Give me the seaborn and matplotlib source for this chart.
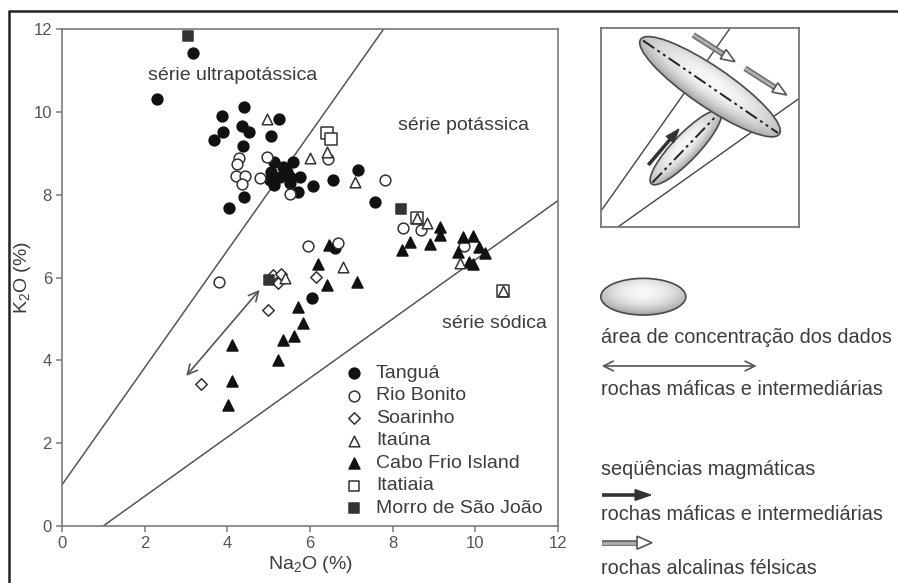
import numpy as np
import matplotlib
matplotlib.use("Agg")
import matplotlib.pyplot as plt
import seaborn as sns
from matplotlib.patches import Ellipse, Polygon

# ---- K2O vs Na2O analyses (wt %) per suite ----
tangua_na = [3.16, 2.29, 4.41, 3.88, 5.25, 4.35, 4.53, 3.90, 3.67, 5.06, 4.37, 5.12, 5.35,
             5.60, 5.06, 5.27, 5.52, 5.76, 5.12, 5.52, 5.72, 4.40, 4.05, 6.08, 6.55, 7.17,
             7.58, 6.61, 6.04, 5.44, 5.03]
tangua_k = [11.43, 10.32, 10.13, 9.91, 9.82, 9.66, 9.52, 9.51, 9.32, 9.42, 9.18, 8.80, 8.68,
            8.80, 8.56, 8.44, 8.44, 8.44, 8.24, 8.28, 8.07, 7.94, 7.67, 8.21, 8.36, 8.61,
            7.83, 6.71, 5.50, 8.56, 8.36]

riobonito_na = [4.28, 4.24, 4.20, 4.43, 4.36, 4.79, 4.97, 5.52, 6.44, 7.82, 8.25, 8.68,
                9.73, 5.94, 6.69, 3.80]
riobonito_k = [8.90, 8.74, 8.45, 8.45, 8.25, 8.40, 8.92, 8.02, 8.86, 8.36, 7.19, 7.15,
               6.76, 6.76, 6.83, 5.88]

soarinho_na = [5.11, 5.23, 6.15, 4.99, 3.35, 5.30]
soarinho_k = [6.06, 5.87, 6.02, 5.21, 3.43, 6.08]

itauna_na = [4.95, 6.40, 6.00, 7.09, 8.83, 9.63, 6.81, 5.39, 10.68, 8.58]
itauna_k = [9.82, 9.04, 8.88, 8.32, 7.32, 6.34, 6.26, 5.98, 5.68, 7.43]

cabofrio_na = [9.15, 9.15, 8.42, 8.22, 8.91, 9.71, 9.94, 9.59, 10.10, 10.24, 9.84, 9.94,
               6.47, 6.20, 6.40, 7.13, 5.70, 5.82, 5.62, 5.34, 5.23, 4.10, 4.10, 4.02]
cabofrio_k = [7.21, 7.03, 6.86, 6.66, 6.81, 6.99, 7.00, 6.62, 6.74, 6.60, 6.38, 6.33,
              6.79, 6.33, 5.82, 5.90, 5.29, 4.91, 4.59, 4.50, 4.01, 4.37, 3.51, 2.92]

itatiaia_na = [6.40, 6.50, 8.58, 10.68]
itatiaia_k = [9.49, 9.36, 7.43, 5.68]

morro_na = [3.05, 8.20, 5.01]
morro_k = [11.83, 7.65, 5.94]

suite_names = ["Tanguá", "Rio Bonito", "Soarinho", "Itaúna", "Cabo Frio Island",
               "Itatiaia", "Morro de São João"]
x_ticks = [0, 2, 4, 6, 8, 10, 12]
y_ticks = [0, 2, 4, 6, 8, 10, 12]

# ---- style ----
sns.set_style("white")
plt.rcParams["font.family"] = ["Liberation Sans", "DejaVu Sans"]
plt.rcParams["mathtext.fontset"] = "custom"
plt.rcParams["mathtext.rm"] = "Liberation Sans"
plt.rcParams["mathtext.it"] = "Liberation Sans"

TXT = "#3c3c3c"
AX = "#7a7a7a"
W, H = 898, 583

fig = plt.figure(figsize=(W / 100, H / 100), dpi=100)
fig.patch.set_facecolor("white")


def box(x0, y0, x1, y1):
    return [x0 / W, 1 - y1 / H, (x1 - x0) / W, (y1 - y0) / H]


ax = fig.add_axes(box(62.3, 29.3, 557.7, 525.7))
ax.set_xlim(0, 12)
ax.set_ylim(0, 12)

# series boundary lines
bx = np.array([0.0, 12.0])
ax.plot(bx, 1 + 1.414 * bx, color="#555555", lw=1.1, zorder=1)
ax.plot(bx, 0.714 * (bx - 1), color="#555555", lw=1.1, zorder=1)

# (na, k, marker, face, edge, size, zorder)
styles = [
    (tangua_na, tangua_k, "o", "#111111", "#111111", 60, 3),
    (riobonito_na, riobonito_k, "o", "white", "#333333", 60, 3),
    (soarinho_na, soarinho_k, "D", "white", "#333333", 34, 3),
    (itauna_na, itauna_k, "^", "white", "#333333", 58, 3.6),
    (cabofrio_na, cabofrio_k, "^", "#111111", "#111111", 62, 3),
    (itatiaia_na, itatiaia_k, "s", "white", "#333333", 70, 3.4),
    (morro_na, morro_k, "s", "#333333", "#333333", 55, 3),
]
for na, k, mk, fc, ec, s, z in styles:
    sns.scatterplot(x=na, y=k, marker=mk, s=s, color=fc, edgecolor=ec,
                    linewidth=1.1, ax=ax, zorder=z, legend=False)

ax.annotate("", xy=(4.78, 5.70), xytext=(3.0, 3.62),
            arrowprops=dict(arrowstyle="<->,head_length=0.7,head_width=0.35",
                            color="#555555", lw=1.2, shrinkA=0, shrinkB=0), zorder=2)

fs = 14
ax.text(2.07, 10.89, "série ultrapotássica", fontsize=fs, color=TXT, va="center", ha="left")
ax.text(8.14, 9.68, "série potássica", fontsize=fs, color=TXT, va="center", ha="left")
ax.text(9.19, 4.88, "série sódica", fontsize=fs, color=TXT, va="center", ha="left")

ax.set_xticks(x_ticks)
ax.set_yticks(y_ticks)
ax.tick_params(axis="both", direction="out", length=4.5, width=1.1, color=AX,
               labelcolor="#555555", labelsize=12, pad=3, left=True, bottom=True)
for sp in ax.spines.values():
    sp.set_color(AX)
    sp.set_linewidth(1.2)
ax.set_xlabel("Na$_2$O (%)", fontsize=fs, color=TXT, labelpad=2)
ax.set_ylabel("K$_2$O (%)", fontsize=fs, color=TXT)
ax.yaxis.set_label_coords(-0.060, 0.5)

# ---- overlay in pixel coordinates ----
ov = fig.add_axes([0, 0, 1, 1])
ov.set_xlim(0, W)
ov.set_ylim(H, 0)
ov.axis("off")

# outer frame
ov.plot([8, W], [11, 11], color="#222222", lw=1.8, solid_capstyle="butt")
ov.plot([9, 9], [11, H], color="#222222", lw=1.8, solid_capstyle="butt")

# legend for suites
leg_y = [373, 396, 418.3, 440.7, 463.3, 486, 508.3]
for (na, k, mk, fc, ec, s, z), name, yy in zip(styles, suite_names, leg_y):
    ov.scatter([354], [yy], marker=mk, s=min(s, 62), c=fc, edgecolors=ec,
               linewidths=1.1, zorder=5)
    ov.text(376, yy, name, fontsize=fs, color=TXT, va="center", ha="left")


def shaded_ellipse(a, cx, cy, w, h, ang, z):
    e = Ellipse((cx, cy), w, h, angle=ang, fc="none", ec="#4a4a4a", lw=1.2, zorder=z + 0.1)
    a.add_patch(e)
    r = max(w, h) / 2 + 2
    n = 240
    xs = np.linspace(cx - r, cx + r, n)
    ys = np.linspace(cy - r, cy + r, n)
    X, Y = np.meshgrid(xs, ys)
    t = np.deg2rad(ang)
    u = ((X - cx) * np.cos(t) + (Y - cy) * np.sin(t)) / (w / 2)
    v = (-(X - cx) * np.sin(t) + (Y - cy) * np.cos(t)) / (h / 2)
    d = np.sqrt(u ** 2 + (v + 0.25) ** 2)
    Z = 0.97 - 0.22 * np.clip(d, 0, 1.3) ** 2
    im = a.imshow(Z, extent=(cx - r, cx + r, cy + r, cy - r), origin="upper", cmap="gray",
                  vmin=0, vmax=1, zorder=z, aspect="auto", interpolation="bilinear")
    im.set_clip_path(e)
    return e


def hollow_arrow(a, p0, p1, hl=15, hw=13, z=5):
    p0 = np.array(p0, float)
    p1 = np.array(p1, float)
    d = (p1 - p0) / np.linalg.norm(p1 - p0)
    n = np.array([-d[1], d[0]])
    base = p1 - d * hl
    a.plot([p0[0], base[0]], [p0[1], base[1]], color="#6a6a6a", lw=4.2,
           solid_capstyle="butt", zorder=z)
    a.plot([p0[0], base[0]], [p0[1], base[1]], color="#b0b0b0", lw=2.0,
           solid_capstyle="butt", zorder=z + 0.05)
    tri = Polygon([p1, base + n * hw / 2, base - n * hw / 2], closed=True,
                  fc="white", ec="#555555", lw=1.2, zorder=z + 0.1)
    a.add_patch(tri)


def solid_arrow(a, p0, p1, hl=16, hw=11, z=5):
    p0 = np.array(p0, float)
    p1 = np.array(p1, float)
    d = (p1 - p0) / np.linalg.norm(p1 - p0)
    n = np.array([-d[1], d[0]])
    base = p1 - d * hl
    a.plot([p0[0], base[0] + d[0] * 3], [p0[1], base[1] + d[1] * 3], color="#333333",
           lw=2.6, solid_capstyle="butt", zorder=z)
    tri = Polygon([p1, base + n * hw / 2, base - n * hw / 2], closed=True,
                  fc="#333333", ec="#333333", lw=0.8, zorder=z + 0.1)
    a.add_patch(tri)


# right-hand key
fk = 14.3
shaded_ellipse(ov, 643.3, 296.7, 85, 36.7, 0, 4)
ov.text(601, 337.3, "área de concentração dos dados", fontsize=fk, color=TXT,
        va="center", ha="left")
ov.annotate("", xy=(756.7, 366), xytext=(601.7, 366),
            arrowprops=dict(arrowstyle="<->,head_length=0.7,head_width=0.35",
                            color="#555555", lw=1.2, shrinkA=0, shrinkB=0))
ov.text(601, 389.3, "rochas máficas e intermediárias", fontsize=fk, color=TXT,
        va="center", ha="left")
ov.text(601, 469.3, "seqüências magmáticas", fontsize=fk, color=TXT, va="center", ha="left")
solid_arrow(ov, (601.7, 495), (651, 495))
ov.text(601, 515, "rochas máficas e intermediárias", fontsize=fk, color=TXT,
        va="center", ha="left")
hollow_arrow(ov, (601.7, 542.7), (652, 542.7))
ov.text(601, 568.3, "rochas alcalinas félsicas", fontsize=fk, color=TXT,
        va="center", ha="left")

# ---- schematic inset ----
ins = fig.add_axes(box(601, 28, 799, 227))
ins.set_xlim(601, 799)
ins.set_ylim(227, 28)
ins.set_xticks([])
ins.set_yticks([])
for sp in ins.spines.values():
    sp.set_color("#777777")
    sp.set_linewidth(1.3)
ins.set_zorder(3)

ins.plot([601.7, 730], [210, 28.3], color="#444444", lw=1.0, zorder=1)
ins.plot([618.3, 799.3], [226.7, 98.3], color="#444444", lw=1.0, zorder=1)

dashdotdot = (0, (7, 2, 1.5, 2, 1.5, 2))
shaded_ellipse(ins, 685.8, 147.5, 100, 26, -46.4, 2)
ins.plot([652.5, 719.5], [182.5, 112.5], color="#222222", lw=1.4, ls=dashdotdot, zorder=2.5)
shaded_ellipse(ins, 710, 86.7, 168, 40, 34.3, 3)
ins.plot([643, 778], [40.5, 133], color="#222222", lw=1.4, ls=dashdotdot, zorder=3.5)

solid_arrow(ins, (648.3, 165), (679, 129), hl=14, hw=10, z=6)
hollow_arrow(ins, (693.3, 35), (735, 61.7), hl=14, hw=11, z=6)
hollow_arrow(ins, (745, 68.3), (786.7, 95), hl=14, hw=11, z=6)
ins.set_xlim(601, 799)
ins.set_ylim(227, 28)
ov.set_xlim(0, W)
ov.set_ylim(H, 0)

fig.savefig("out.png", dpi=100, facecolor="white")
